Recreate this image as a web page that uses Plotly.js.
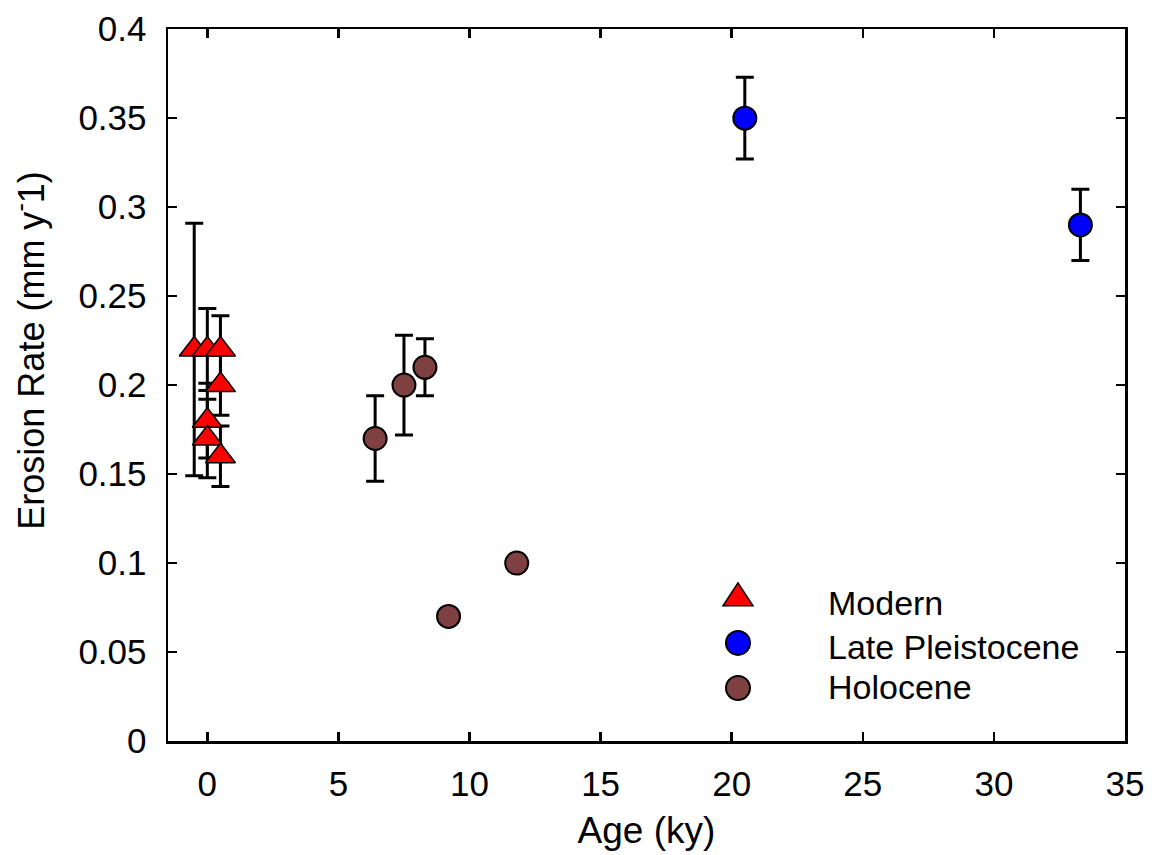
<!DOCTYPE html>
<html>
<head>
<meta charset="utf-8">
<script src="https://cdn.plot.ly/plotly-3.0.1.min.js"></script>
<style>html,body{margin:0;padding:0;background:#fff;}#chart{width:1155px;height:855px;}</style>
</head>
<body>
<div id="chart"></div>
<script>
// Modern
const modernAge  = [-0.5, 0, 0.5, 0.5, 0, 0, 0.5];
const modernRate = [0.22, 0.22, 0.22, 0.20, 0.18, 0.17, 0.16];
const modernErr  = [0.071, 0.023, 0.019, 0.017, 0.021, 0.022, 0.017];
// Late Pleistocene
const pleistAge  = [20.5, 33.3];
const pleistRate = [0.35, 0.29];
const pleistErr  = [0.023, 0.020];
// Holocene
const holoAge  = [6.4, 7.5, 8.3, 9.2, 11.8];
const holoRate = [0.17, 0.20, 0.21, 0.07, 0.10];
const holoErr  = [0.024, 0.028, 0.016, 0, 0];

const seriesNames = ['Modern', 'Late Pleistocene', 'Holocene'];
const xTickVals = [0, 5, 10, 15, 20, 25, 30, 35];
const yTickVals = [0, 0.05, 0.1, 0.15, 0.2, 0.25, 0.3, 0.35, 0.4];

const FONT = 'Liberation Sans, Arial, sans-serif';
const errStyle = {type: 'data', visible: true, color: '#000', thickness: 3, width: 9};

const traces = [
  {x: modernAge, y: modernRate, name: seriesNames[0], type: 'scatter', mode: 'markers',
   error_y: Object.assign({array: modernErr}, errStyle),
   marker: {symbol: 'triangle-up', size: 26, color: '#ff0000', line: {color: '#000', width: 1.5}}},
  {x: pleistAge, y: pleistRate, name: seriesNames[1], type: 'scatter', mode: 'markers',
   error_y: Object.assign({array: pleistErr}, errStyle),
   marker: {symbol: 'circle', size: 23, color: '#0000ff', line: {color: '#000', width: 2}}},
  {x: holoAge, y: holoRate, name: seriesNames[2], type: 'scatter', mode: 'markers',
   error_y: Object.assign({array: holoErr}, errStyle),
   marker: {symbol: 'circle', size: 23, color: '#7e4040', line: {color: '#000', width: 2}}}
];

// manual legend (symbols as shapes, labels as annotations)
const legSymX = 0.5956, legTextX = 0.6876;
const legSymY = [0.2053, 0.1378, 0.0745];
const legTextY = [0.1941, 0.1315, 0.0759];
const legColors = ['#ff0000', '#0000ff', '#7e4040'];

const shapes = [
  {type: 'path', xref: 'paper', yref: 'paper', xsizemode: 'pixel', ysizemode: 'pixel',
   xanchor: legSymX, yanchor: legSymY[0], path: 'M -15 -11 L 15 -11 L 0 12 Z',
   fillcolor: legColors[0], line: {color: '#000', width: 1.5}},
  {type: 'circle', xref: 'paper', yref: 'paper', xsizemode: 'pixel', ysizemode: 'pixel',
   xanchor: legSymX, yanchor: legSymY[1], x0: -12, x1: 12, y0: -12, y1: 12,
   fillcolor: legColors[1], line: {color: '#000', width: 2}},
  {type: 'circle', xref: 'paper', yref: 'paper', xsizemode: 'pixel', ysizemode: 'pixel',
   xanchor: legSymX, yanchor: legSymY[2], x0: -12, x1: 12, y0: -12, y1: 12,
   fillcolor: legColors[2], line: {color: '#000', width: 2}}
];

const annotations = seriesNames.map((n, i) => ({
  text: n, xref: 'paper', yref: 'paper', x: legTextX, y: legTextY[i],
  xanchor: 'left', yanchor: 'middle', showarrow: false,
  font: {family: FONT, size: 34, color: '#000'}
}));
annotations.push({
  text: 'Erosion Rate (mm y<sup>-</sup>1)', xref: 'paper', yref: 'paper',
  x: -0.145, y: 0.5485, xanchor: 'center', yanchor: 'middle', textangle: -90,
  showarrow: false, font: {family: FONT, size: 36, color: '#000'}
});

const axisCommon = {
  showline: true, linecolor: '#000', linewidth: 2.5, mirror: 'ticks',
  ticks: 'inside', ticklen: 9, tickwidth: 2.5, tickcolor: '#000',
  showgrid: false, zeroline: false,
  tickfont: {family: FONT, size: 35, color: '#000'}
};

const layout = {
  width: 1155, height: 855,
  margin: {l: 168, r: 30, t: 29, b: 114},
  paper_bgcolor: '#fff', plot_bgcolor: '#fff',
  showlegend: false,
  font: {family: FONT, color: '#000'},
  xaxis: Object.assign({}, axisCommon, {
    range: [-1.5, 35.001], tickvals: xTickVals, ticktext: xTickVals.map(String),
    ticklabelstandoff: 10,
    title: {text: 'Age (ky)', font: {family: FONT, size: 37, color: '#000'}, standoff: 16}
  }),
  yaxis: Object.assign({}, axisCommon, {
    range: [0, 0.4001], tickvals: yTickVals, ticktext: yTickVals.map(String),
    ticklabelstandoff: 12
  }),
  shapes: shapes,
  annotations: annotations
};

Plotly.newPlot('chart', traces, layout, {displayModeBar: false, staticPlot: true});
</script>
</body>
</html>
